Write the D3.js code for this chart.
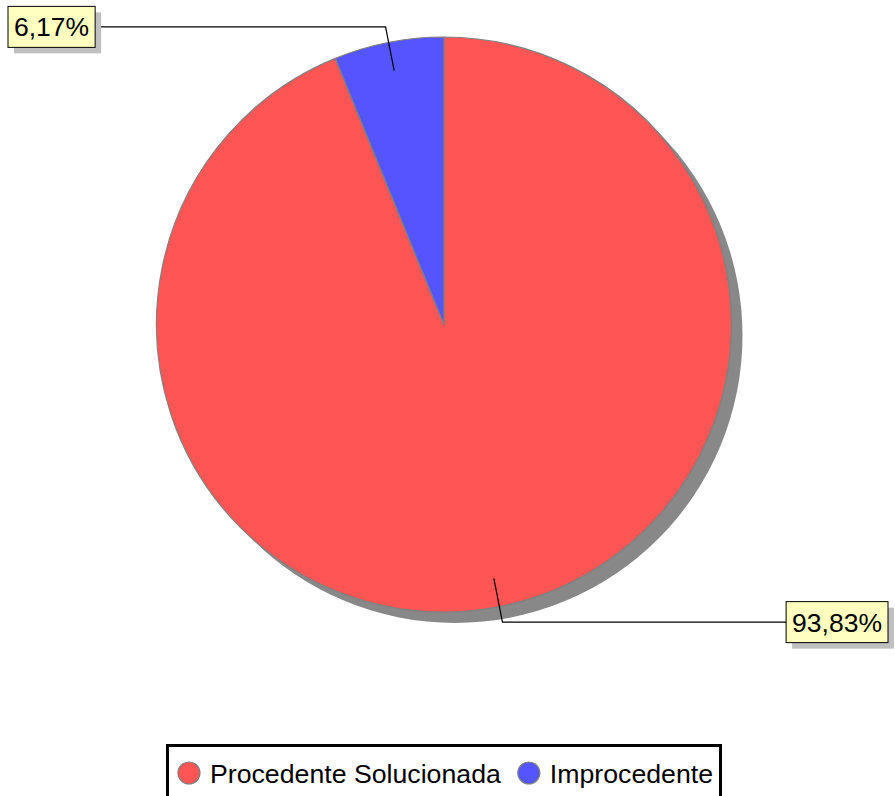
<!DOCTYPE html>
<html>
<head>
<meta charset="utf-8">
<script src="https://cdn.jsdelivr.net/npm/d3@7"></script>
<style>
  html, body { margin: 0; padding: 0; background: #fff; }
  svg { display: block; font-family: "Liberation Sans", Arial, sans-serif; }
</style>
</head>
<body>
<svg id="chart" width="895" height="796"></svg>
<script>
const categories = ["Procedente Solucionada", "Improcedente"];
const values = [93.83, 6.17];
const valueLabels = ["93,83%", "6,17%"];
const colors = ["#ff5555", "#5555ff"];

const W = 895, H = 796;
const cx = 444, cy = 324.5, R = 287.5;
const svg = d3.select("#chart");

const data = categories.map((c, i) => ({ cat: c, value: values[i], label: valueLabels[i], color: colors[i] }));
const pie = d3.pie().sort(null).value(d => d.value);
const arcs = pie(data);
const arc = d3.arc().innerRadius(0).outerRadius(R);

const g = svg.append("g").attr("transform", `translate(${cx},${cy})`);

// shadow
g.append("circle").attr("cx", 11).attr("cy", 11).attr("r", R).attr("fill", "#888888");

g.selectAll("path.slice").data(arcs).enter().append("path")
  .attr("class", "slice")
  .attr("d", arc)
  .attr("fill", d => d.data.color)
  .attr("stroke", "#808080")
  .attr("stroke-width", 1.2)
  .attr("stroke-linejoin", "round");

// labels
const fontSize = 26.5;
arcs.forEach(d => {
  const a = (d.startAngle + d.endAngle) / 2;
  const p1 = [Math.sin(a) * R * 0.9, -Math.cos(a) * R * 0.9];
  const p2 = [Math.sin(a) * R * 1.055, -Math.cos(a) * R * 1.055];
  const right = Math.sin(a) >= 0;
  const t = svg.append("text").attr("font-size", fontSize).text(d.data.label);
  const tw = t.node().getComputedTextLength();
  t.remove();
  const bw = tw + 12, bh = 41;
  const by = cy + p2[1] - bh / 2;
  const bx = right ? (W - 7 - bw) : 8;
  const lineEnd = right ? bx - cx : bx + bw - cx;

  g.append("polyline")
    .attr("points", [p1, p2, [lineEnd, p2[1]]].map(p => p.join(",")).join(" "))
    .attr("fill", "none").attr("stroke", "#000").attr("stroke-width", 1.2);

  svg.append("rect").attr("x", bx + 6).attr("y", by + 6).attr("width", bw).attr("height", bh)
    .attr("fill", "#c0c0c0");
  svg.append("rect").attr("x", bx).attr("y", by).attr("width", bw).attr("height", bh)
    .attr("fill", "#ffffc0").attr("stroke", "#000").attr("stroke-width", 1);
  svg.append("text").attr("x", bx + bw / 2).attr("y", by + bh / 2 + 9.5)
    .attr("text-anchor", "middle").attr("font-size", fontSize).attr("fill", "#000")
    .text(d.data.label);
});

// legend
const legendFont = 26.7;
const lg = svg.append("g");
lg.append("rect").attr("x", 167.5).attr("y", 745.5).attr("width", 553).attr("height", 70)
  .attr("fill", "#fff").attr("stroke", "#000").attr("stroke-width", 3);
let lx = 189;
data.forEach((d, i) => {
  lg.append("circle").attr("cx", lx).attr("cy", 773).attr("r", 11)
    .attr("fill", d.color).attr("stroke", "#808080").attr("stroke-width", 1.2);
  const t = lg.append("text").attr("x", lx + 21).attr("y", 782.5)
    .attr("font-size", legendFont).attr("fill", "#000").text(d.cat);
  lx = lx + 21 + t.node().getComputedTextLength() + 28;
});
</script>
</body>
</html>
